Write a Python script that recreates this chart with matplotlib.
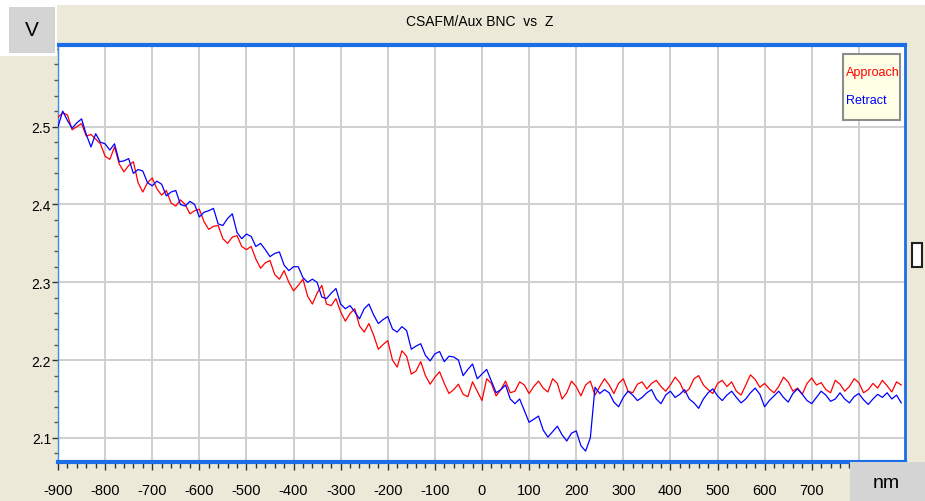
import numpy as np
import matplotlib
matplotlib.use("Agg")
import matplotlib.pyplot as plt
from matplotlib.patches import Rectangle

# Z position (nm), one sample every 10 nm
z_start = -900
z_step = 10

approach = [
    2.512, 2.518, 2.515, 2.496, 2.500, 2.504, 2.488, 2.490, 2.484, 2.478,
    2.462, 2.458, 2.474, 2.452, 2.442, 2.450, 2.455, 2.428, 2.416, 2.428,
    2.434, 2.420, 2.412, 2.418, 2.402, 2.398, 2.406, 2.400, 2.388, 2.392,
    2.394, 2.378, 2.368, 2.372, 2.373, 2.356, 2.350, 2.358, 2.360, 2.346,
    2.342, 2.346, 2.330, 2.318, 2.325, 2.328, 2.310, 2.304, 2.315, 2.300,
    2.289, 2.296, 2.304, 2.282, 2.272, 2.286, 2.296, 2.272, 2.270, 2.279,
    2.262, 2.250, 2.260, 2.266, 2.244, 2.236, 2.247, 2.232, 2.214, 2.220,
    2.225, 2.200, 2.191, 2.212, 2.205, 2.182, 2.186, 2.198, 2.180, 2.169,
    2.178, 2.185, 2.170, 2.157, 2.162, 2.169, 2.156, 2.153, 2.172, 2.160,
    2.148, 2.176, 2.170, 2.154, 2.162, 2.173, 2.158, 2.160, 2.172, 2.168,
    2.157, 2.166, 2.173, 2.164, 2.159, 2.176, 2.170, 2.150, 2.158, 2.173,
    2.166, 2.154, 2.168, 2.173, 2.155, 2.166, 2.176, 2.168, 2.157, 2.170,
    2.176, 2.160, 2.158, 2.169, 2.172,
    2.163, 2.170, 2.174, 2.166, 2.160, 2.168, 2.178, 2.171, 2.158, 2.163,
    2.176, 2.180, 2.168, 2.162, 2.157, 2.170, 2.174, 2.166, 2.172, 2.160,
    2.155, 2.168, 2.181, 2.175, 2.165, 2.170, 2.163, 2.158, 2.166, 2.178,
    2.172, 2.160, 2.164, 2.156, 2.170, 2.177, 2.168, 2.171, 2.162, 2.158,
    2.174, 2.169, 2.160, 2.166, 2.176, 2.171, 2.158, 2.162, 2.170, 2.164,
    2.174, 2.167, 2.159, 2.172, 2.168,
]

retract = [
    2.500, 2.520, 2.508, 2.498, 2.505, 2.510, 2.490, 2.474, 2.491, 2.480,
    2.478, 2.470, 2.478, 2.455, 2.456, 2.459, 2.440, 2.445, 2.443, 2.428,
    2.424, 2.430, 2.426, 2.411, 2.416, 2.418, 2.400, 2.398, 2.404, 2.400,
    2.384, 2.390, 2.392, 2.395, 2.375, 2.373, 2.382, 2.388, 2.364, 2.356,
    2.362, 2.359, 2.346, 2.350, 2.342, 2.333, 2.337, 2.339, 2.322, 2.315,
    2.320, 2.320, 2.306, 2.300, 2.304, 2.300, 2.281, 2.279, 2.286, 2.292,
    2.272, 2.266, 2.270, 2.262, 2.253, 2.266, 2.272, 2.258, 2.247, 2.252,
    2.256, 2.240, 2.236, 2.243, 2.238, 2.214, 2.218, 2.221, 2.206, 2.199,
    2.208, 2.211, 2.198, 2.205, 2.204, 2.200, 2.180, 2.188, 2.195, 2.176,
    2.182, 2.188, 2.173, 2.158, 2.162, 2.168, 2.150, 2.144, 2.150, 2.135,
    2.120, 2.124, 2.128, 2.110, 2.101, 2.108, 2.115, 2.104, 2.096, 2.106,
    2.109, 2.090, 2.083, 2.100, 2.165,
    2.157, 2.162, 2.158, 2.146, 2.140, 2.152, 2.160, 2.155, 2.148, 2.152,
    2.158, 2.162, 2.150, 2.144, 2.155, 2.160, 2.152, 2.156, 2.162, 2.150,
    2.145, 2.138, 2.150, 2.158, 2.163, 2.154, 2.148, 2.155, 2.160, 2.152,
    2.145, 2.150, 2.158, 2.164, 2.156, 2.140, 2.148, 2.154, 2.160, 2.152,
    2.146, 2.157, 2.163, 2.156, 2.148, 2.144, 2.152, 2.160, 2.155, 2.147,
    2.150, 2.158, 2.150, 2.145, 2.153, 2.157, 2.149, 2.143, 2.150, 2.156,
    2.152, 2.158, 2.150, 2.155, 2.145,
]

z_approach = z_start + z_step * np.arange(len(approach))
z_retract = z_start + z_step * np.arange(len(retract))

x_ticks = [-900, -800, -700, -600, -500, -400, -300, -200, -100,
           0, 100, 200, 300, 400, 500, 600, 700, 800]
x_labels = ['-900', '-800', '-700', '-600', '-500', '-400', '-300', '-200', '-100',
            '0', '100', '200', '300', '400', '500', '600', '700', '']
y_ticks = [2.1, 2.2, 2.3, 2.4, 2.5]
y_labels = ['2.1', '2.2', '2.3', '2.4', '2.5']

sans = ['Liberation Sans', 'DejaVu Sans']
beige = '#ECE9D8'
edge_blue = '#1C6EE6'

W, H = 925, 502
fig = plt.figure(figsize=(W / 100, H / 100), dpi=100, facecolor=beige)

def px(x0, y0, x1, y1):
    # pixel box (top-left origin) -> figure fraction rect
    return [x0 / W, 1 - y1 / H, (x1 - x0) / W, (y1 - y0) / H]

# white strip along the top and the V box
fig.add_artist(Rectangle((0, 1 - 6 / H), 1, 6 / H, transform=fig.transFigure,
                         facecolor='white', edgecolor='none', zorder=1))
fig.add_artist(Rectangle((0, 1 - 57 / H), 57 / W, 57 / H, transform=fig.transFigure,
                         facecolor='white', edgecolor='none', zorder=1))
fig.add_artist(Rectangle((9 / W, 1 - 54 / H), 46 / W, 46 / H, transform=fig.transFigure,
                         facecolor='#D4D4D4', edgecolor='none', zorder=2))
fig.text(32 / W, 1 - 31 / H, 'V', fontsize=15, ha='center', va='center',
         family=sans, zorder=3)

ax = fig.add_axes(px(58, 46, 905, 463))
ax.set_facecolor('white')

ax.plot(z_approach, approach, color='#FF0000', lw=0.9, zorder=3)
ax.plot(z_retract, retract, color='#0000FF', lw=0.9, zorder=3)

ax.set_xlim(-900, 898)
ax.set_ylim(2.069, 2.605)

ax.set_xticks(x_ticks)
ax.set_xticklabels(x_labels, family=sans, fontsize=10.5)
ax.set_xticks(np.arange(-900, 900, 20), minor=True)
ax.set_yticks(y_ticks)
ax.set_yticklabels(y_labels, family=sans, fontsize=10)
ax.set_yticks(np.arange(2.08, 2.61, 0.02), minor=True)

ax.tick_params(axis='x', which='major', direction='out', length=6, width=1,
               color='#333333', pad=9)
ax.tick_params(axis='x', which='minor', direction='out', length=4, width=1,
               color='#333333')
ax.tick_params(axis='y', which='major', direction='out', length=4, width=1,
               color='#333333', pad=1)
ax.tick_params(axis='y', which='minor', direction='out', length=3, width=1,
               color='#555555')

ax.grid(True, which='major', color='#CFCFCF', lw=1.4)
ax.set_axisbelow(True)

ax.spines['top'].set_color(edge_blue)
ax.spines['top'].set_linewidth(3)
ax.spines['bottom'].set_color(edge_blue)
ax.spines['bottom'].set_linewidth(3)
ax.spines['left'].set_color('#3C8CF0')
ax.spines['left'].set_linewidth(1)
ax.spines['right'].set_color(edge_blue)
ax.spines['right'].set_linewidth(2)

fig.text(480 / W, 1 - 22 / H, 'CSAFM/Aux BNC  vs  Z', fontsize=10,
         ha='center', va='center', family=sans)

# legend box
fig.add_artist(Rectangle((843 / W, 1 - 121 / H), 57 / W, 66 / H,
                         transform=fig.transFigure, facecolor='#FFFFE6',
                         edgecolor='#8C8C8C', lw=1.5, zorder=5))
fig.text(846 / W, 1 - 73 / H, 'Approach', color='#FF0000', fontsize=9,
         va='center', ha='left', family=sans, zorder=6)
fig.text(846 / W, 1 - 101 / H, 'Retract', color='#0000FF', fontsize=9,
         va='center', ha='left', family=sans, zorder=6)

# units box bottom right
fig.add_artist(Rectangle((850 / W, 0), 75 / W, 39 / H, transform=fig.transFigure,
                         facecolor='#D4D4D4', edgecolor='none', zorder=6))
fig.text(886 / W, 1 - 484 / H, 'nm', fontsize=14, ha='center', va='center',
         family=sans, zorder=7)

# small box at the right edge
fig.add_artist(Rectangle((912 / W, 1 - 268 / H), 10 / W, 24 / H,
                         transform=fig.transFigure, facecolor='white',
                         edgecolor='#202020', lw=1.5, zorder=5))

fig.savefig('out.png', dpi=100, facecolor=beige)
